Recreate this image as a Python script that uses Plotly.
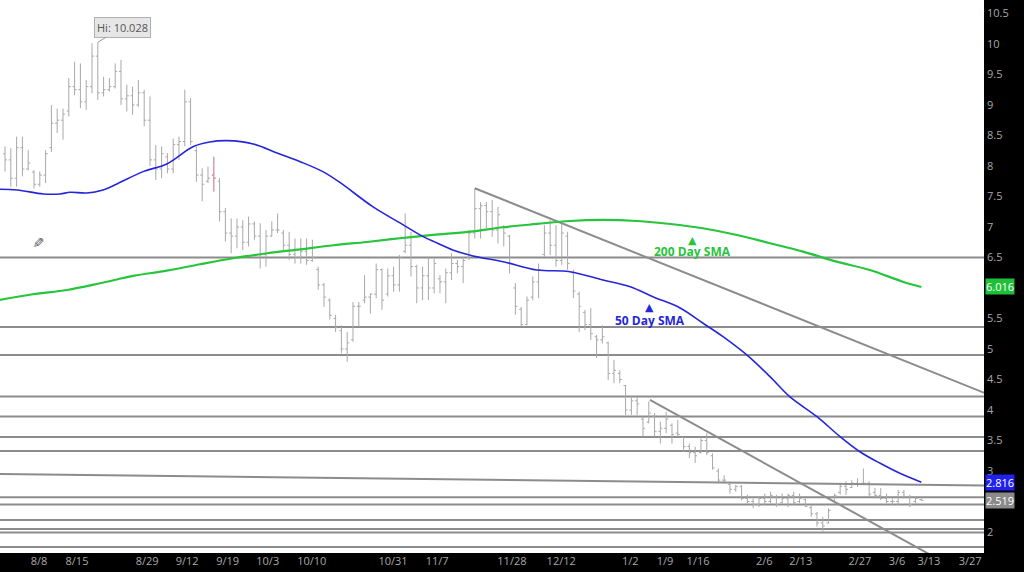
import plotly.graph_objects as go

# ---------------- data ----------------
bar_idx = list(range(159))
highs = [8.32, 8.29, 8.48, 8.48, 8.26, 7.93, 7.91, 8.26, 9.00, 8.94,
         8.94, 9.44, 9.71, 9.68, 9.41, 10.01, 10.028, 9.46, 9.44, 9.68,
         9.74, 9.33, 9.30, 9.41, 9.25, 9.14, 8.34, 8.32, 8.21, 8.45,
         8.48, 9.25, 9.11, 8.32, 7.96, 7.99, 8.15, 7.80, 7.31, 7.14,
         7.14, 7.11, 7.17, 7.09, 7.06, 6.95, 7.09, 7.22, 6.95, 6.92,
         6.81, 6.81, 6.81, 6.79, 6.35, 6.08, 5.83, 5.56, 5.39, 5.28,
         5.77, 5.77, 6.21, 5.91, 6.40, 6.32, 6.32, 6.35, 6.54, 7.22,
         6.92, 6.38, 6.35, 6.51, 6.48, 6.21, 6.32, 6.57, 6.46, 6.51,
         6.95, 7.63, 7.41, 7.41, 7.44, 7.33, 7.03, 6.87, 6.08, 5.69,
         5.86, 6.19, 6.40, 7.03, 7.11, 7.03, 7.06, 6.92, 6.30, 5.94,
         5.64, 5.67, 5.23, 5.39, 5.12, 4.82, 4.65, 4.41, 4.22, 4.22,
         3.89, 4.14, 3.95, 3.81, 3.97, 3.78, 3.84, 3.56, 3.45, 3.40,
         3.56, 3.62, 3.29, 3.04, 2.93, 2.80, 2.77, 2.77, 2.61, 2.55,
         2.58, 2.63, 2.66, 2.61, 2.63, 2.63, 2.66, 2.63, 2.55, 2.44,
         2.33, 2.25, 2.39, 2.63, 2.80, 2.83, 2.85, 2.88, 3.04, 2.83,
         2.72, 2.72, 2.63, 2.55, 2.69, 2.69, 2.61, 2.58, 2.55]
lows = [7.91, 7.66, 7.66, 7.83, 7.93, 7.63, 7.66, 7.72, 8.23, 8.54,
        8.43, 8.81, 9.16, 8.95, 8.92, 9.19, 9.08, 9.14, 9.22, 9.27,
        9.00, 8.89, 8.84, 8.97, 8.65, 8.00, 7.77, 7.80, 7.88, 7.88,
        8.10, 8.32, 8.34, 7.74, 7.42, 7.72, 7.58, 7.09, 6.76, 6.57,
        6.65, 6.62, 6.68, 6.79, 6.32, 6.35, 6.84, 6.90, 6.62, 6.46,
        6.40, 6.40, 6.38, 6.43, 5.97, 5.69, 5.48, 5.28, 4.93, 4.79,
        5.12, 5.37, 5.75, 5.58, 5.83, 5.64, 5.86, 5.94, 5.94, 6.57,
        6.19, 5.75, 5.80, 5.80, 5.91, 5.91, 5.75, 6.13, 6.24, 6.08,
        6.46, 6.81, 6.81, 6.98, 6.84, 6.73, 6.68, 6.24, 5.56, 5.37,
        5.39, 5.80, 5.83, 6.51, 6.54, 6.35, 6.38, 6.30, 5.83, 5.28,
        5.31, 5.15, 4.85, 5.09, 4.49, 4.44, 4.44, 3.92, 3.92, 3.92,
        3.56, 3.78, 3.56, 3.45, 3.62, 3.45, 3.56, 3.32, 3.21, 3.13,
        3.29, 3.26, 3.02, 2.80, 2.80, 2.63, 2.66, 2.52, 2.47, 2.39,
        2.41, 2.44, 2.47, 2.41, 2.47, 2.41, 2.44, 2.47, 2.41, 2.25,
        2.09, 2.01, 2.14, 2.47, 2.61, 2.61, 2.72, 2.74, 2.77, 2.58,
        2.55, 2.52, 2.47, 2.44, 2.44, 2.55, 2.41, 2.47, 2.52]
opens = [8.20, 8.10, 7.80, 8.30, 7.95, 7.90, 7.70, 7.85, 8.30, 8.70,
         8.75, 8.90, 9.30, 9.25, 9.05, 9.30, 9.80, 9.20, 9.25, 9.30,
         9.55, 9.10, 9.15, 9.00, 9.20, 8.75, 8.10, 7.95, 8.15, 7.95,
         8.35, 8.40, 9.05, 8.25, 7.85, 7.75, 7.85, 7.75, 7.25, 6.90,
         6.85, 7.00, 6.75, 7.05, 6.85, 6.55, 6.85, 6.95, 6.90, 6.70,
         6.55, 6.50, 6.60, 6.45, 6.30, 6.05, 5.80, 5.50, 5.30, 5.00,
         5.15, 5.70, 5.80, 5.85, 5.90, 6.30, 5.90, 6.20, 6.05, 6.60,
         6.70, 6.35, 6.00, 6.20, 6.00, 6.15, 6.10, 6.25, 6.40, 6.35,
         6.50, 6.90, 7.30, 7.35, 7.25, 6.95, 7.00, 6.85, 6.00, 5.65,
         5.40, 5.85, 6.10, 6.55, 6.90, 6.70, 6.45, 6.85, 6.25, 5.90,
         5.60, 5.40, 5.20, 5.15, 5.10, 4.60, 4.60, 4.40, 4.00, 4.15,
         3.85, 3.80, 3.90, 3.65, 3.70, 3.75, 3.62, 3.55, 3.40, 3.30,
         3.30, 3.50, 3.25, 3.00, 2.85, 2.78, 2.70, 2.75, 2.55, 2.50,
         2.45, 2.55, 2.50, 2.58, 2.48, 2.55, 2.60, 2.50, 2.53, 2.40,
         2.30, 2.15, 2.15, 2.50, 2.65, 2.75, 2.73, 2.80, 2.80, 2.80,
         2.65, 2.60, 2.55, 2.50, 2.50, 2.65, 2.58, 2.50, 2.53]
closes = [8.10, 7.80, 8.30, 7.95, 8.05, 7.70, 7.85, 8.20, 8.70, 8.75,
          8.85, 9.30, 9.25, 9.05, 9.30, 9.80, 9.20, 9.25, 9.30, 9.55,
          9.10, 9.15, 9.00, 9.20, 8.75, 8.10, 7.95, 8.20, 7.95, 8.35,
          8.40, 9.05, 8.40, 7.85, 7.70, 7.80, 7.80, 7.25, 6.90, 6.85,
          7.00, 6.75, 7.05, 6.85, 6.55, 6.85, 6.95, 6.95, 6.70, 6.55,
          6.50, 6.60, 6.45, 6.50, 6.05, 5.85, 5.55, 5.35, 5.00, 5.10,
          5.70, 5.70, 5.85, 5.90, 6.30, 5.80, 6.20, 6.05, 6.50, 6.70,
          6.35, 6.00, 6.20, 6.00, 6.40, 6.10, 6.25, 6.40, 6.35, 6.45,
          6.90, 7.30, 7.35, 7.25, 6.95, 7.20, 6.90, 6.40, 5.70, 5.40,
          5.80, 6.10, 6.30, 6.90, 6.70, 6.45, 6.90, 6.40, 5.95, 5.70,
          5.40, 5.25, 5.15, 5.20, 4.60, 4.65, 4.50, 4.00, 4.15, 4.10,
          3.70, 3.95, 3.65, 3.70, 3.85, 3.60, 3.60, 3.40, 3.30, 3.25,
          3.50, 3.30, 3.05, 2.85, 2.85, 2.70, 2.75, 2.55, 2.50, 2.45,
          2.55, 2.50, 2.60, 2.45, 2.55, 2.60, 2.48, 2.55, 2.42, 2.30,
          2.15, 2.10, 2.35, 2.60, 2.75, 2.70, 2.80, 2.78, 2.80, 2.62,
          2.60, 2.55, 2.50, 2.50, 2.65, 2.58, 2.45, 2.55, 2.519]
pink_bar = 36

sma50_x = [-0.9, 2.1, 6.6, 9.5, 11.2, 14.1, 16.9, 19.3, 23.8, 27.9, 32.4, 35.3, 38.3,
           42.8, 46.9, 50.9, 54.8, 57.8, 63.4, 68.1, 72.1, 74.5, 77.2, 80.7, 85.9,
           91.7, 97.4, 103.1, 107.8, 111.7, 116.4, 120.3, 123.8, 127.9, 131.9,
           135.3, 140.0, 144.0, 147.4, 150.9, 154.3, 158.0]
sma50_v = [7.618, 7.607, 7.541, 7.541, 7.569, 7.557, 7.607, 7.705, 7.907, 8.033, 8.316,
           8.393, 8.415, 8.361, 8.213, 8.070, 7.907, 7.726, 7.333, 7.066, 6.841, 6.738,
           6.623, 6.525, 6.431, 6.295, 6.267, 6.131, 6.021, 5.857, 5.672, 5.426, 5.202,
           4.902, 4.546, 4.218, 3.890, 3.562, 3.316, 3.126, 2.962, 2.816]
sma200_x = [-0.9, 4.8, 10.7, 16.4, 22.1, 27.9, 33.6, 39.3, 45.2, 50.9, 56.6, 62.4, 68.1,
            73.8, 80.2, 85.9, 91.7, 97.4, 103.1, 109.0, 114.7, 120.3, 126.2, 131.9,
            137.6, 143.4, 149.1, 154.8, 158.0]
sma200_v = [5.803, 5.897, 5.967, 6.077, 6.197, 6.284, 6.389, 6.487, 6.569, 6.634, 6.700,
            6.754, 6.815, 6.869, 6.923, 6.995, 7.049, 7.098, 7.115, 7.098, 7.049, 6.979,
            6.869, 6.733, 6.595, 6.431, 6.295, 6.103, 6.016]

h_levels = [6.5, 5.361, 4.902, 4.221, 3.893, 3.557, 3.328, 2.571, 2.451, 2.197, 2.049, 1.992, 1.754]
slope_line_x = [-0.9, 168.9]
slope_line_v = [2.951, 2.762]
trend1_x = [81.0, 168.9]
trend1_v = [7.634, 4.278]
trend2_x = [111.2, 165.0]
trend2_v = [4.164, 1.341]

tick_pos = [5.86, 12.41, 24.5, 31.4, 38.4, 45.3, 52.9, 66.9, 74.5, 87.4, 95.9,
            107.8, 113.8, 119.5, 130.9, 137.2, 147.4, 153.8, 159.3, 166.4]
tick_text = ["8/8", "8/15", "8/29", "9/12", "9/19", "10/3", "10/10", "10/31", "11/7",
             "11/28", "12/12", "1/2", "1/9", "1/16", "2/6", "2/13", "2/27", "3/6",
             "3/13", "3/27"]
y_ticks = [2, 2.5, 3, 3.5, 4, 4.5, 5, 5.5, 6, 6.5, 7, 7.5, 8, 8.5, 9, 9.5, 10, 10.5]

last_200 = 6.016
last_50 = 2.816
last_px = 2.519
hi_value = 10.028
hi_bar = 16

# ---------------- figure ----------------
LINE_GRAY = "#8c8c8c"
fig = go.Figure()

for lv in h_levels:
    fig.add_shape(type="line", xref="paper", x0=0, x1=1, yref="y", y0=lv, y1=lv,
                  line=dict(color=LINE_GRAY, width=2), layer="below")

for xs, vs in [(slope_line_x, slope_line_v), (trend1_x, trend1_v), (trend2_x, trend2_v)]:
    fig.add_trace(go.Scatter(x=xs, y=vs, mode="lines",
                             line=dict(color=LINE_GRAY, width=2), hoverinfo="skip"))

fig.add_trace(go.Scatter(x=sma200_x, y=sma200_v, mode="lines", line_shape="spline",
                         line=dict(color="#27c43c", width=2.2), hoverinfo="skip"))
fig.add_trace(go.Scatter(x=sma50_x, y=sma50_v, mode="lines", line_shape="spline",
                         line=dict(color="#2626d9", width=1.6), hoverinfo="skip"))

bar_gray = "#a8a8a8"
fig.add_trace(go.Ohlc(x=bar_idx, open=opens, high=highs, low=lows, close=closes,
                      increasing=dict(line=dict(color=bar_gray, width=1)),
                      decreasing=dict(line=dict(color=bar_gray, width=1)),
                      tickwidth=0.35, hoverinfo="skip"))
fig.add_trace(go.Ohlc(x=[bar_idx[pink_bar]], open=[opens[pink_bar]], high=[highs[pink_bar]],
                      low=[lows[pink_bar]], close=[closes[pink_bar]],
                      increasing=dict(line=dict(color="#f08aa8", width=1)),
                      decreasing=dict(line=dict(color="#f08aa8", width=1)),
                      tickwidth=0.35, hoverinfo="skip"))

ann = []
# right-side price boxes
for val, bg in [(last_200, "#1fbf3a"), (last_50, "#2121ee"), (last_px, "#8a8a8a")]:
    ann.append(dict(xref="paper", x=1, xanchor="left", xshift=1, yref="y", y=val,
                    yanchor="middle", text=f"{val:.3f}", showarrow=False,
                    font=dict(family="Open Sans", size=11, color="white"),
                    bgcolor=bg, borderpad=0))
# Hi label
ann.append(dict(x=hi_bar, y=hi_value, xref="x", yref="y", text=f"Hi: {hi_value:.3f}",
                showarrow=True, arrowhead=0, arrowwidth=1, arrowcolor="#999999",
                ax=25, ay=-15, font=dict(family="Open Sans", size=11, color="#555555"),
                bgcolor="#e6e6e6", bordercolor="#b0b0b0", borderwidth=1, borderpad=2))
# SMA labels
ann.append(dict(x=118.6, y=6.59, text="<b>200 Day SMA</b>", showarrow=False,
                font=dict(family="Open Sans", size=12, color="#27c43c")))
ann.append(dict(x=118.6, y=6.78, text="▲", showarrow=False,
                font=dict(family="DejaVu Sans", size=11, color="#27c43c")))
ann.append(dict(x=111.2, y=5.475, text="<b>50 Day SMA</b>", showarrow=False,
                font=dict(family="Open Sans", size=12, color="#2626d9")))
ann.append(dict(x=111.2, y=5.68, text="▲", showarrow=False,
                font=dict(family="DejaVu Sans", size=11, color="#2626d9")))
# pencil
ann.append(dict(x=5.7, y=6.74, text="✎", showarrow=False, textangle=90,
                font=dict(family="DejaVu Sans", size=14, color="#555555")))

fig.update_layout(
    width=1024, height=572,
    margin=dict(l=0, r=40, t=0, b=19),
    paper_bgcolor="#000000", plot_bgcolor="#ffffff",
    showlegend=False, annotations=ann,
    xaxis=dict(range=[-0.862, 168.8], tickvals=tick_pos, ticktext=tick_text,
               showgrid=False, zeroline=False, showline=False, ticks="",
               rangeslider=dict(visible=False),
               tickfont=dict(family="Open Sans", size=11, color="#a8a8a8")),
    yaxis=dict(range=[1.656, 10.72], side="right", tickvals=y_ticks,
               ticktext=[f"{t:g}" for t in y_ticks], showgrid=False, zeroline=False,
               showline=False, ticks="", ticklabelstandoff=2,
               tickfont=dict(family="Open Sans", size=11, color="#a8a8a8")),
)

fig.write_html("out.html", config={"displayModeBar": False},
               post_script="document.body.style.margin='0';document.body.style.padding='0';document.body.style.overflow='hidden';")
